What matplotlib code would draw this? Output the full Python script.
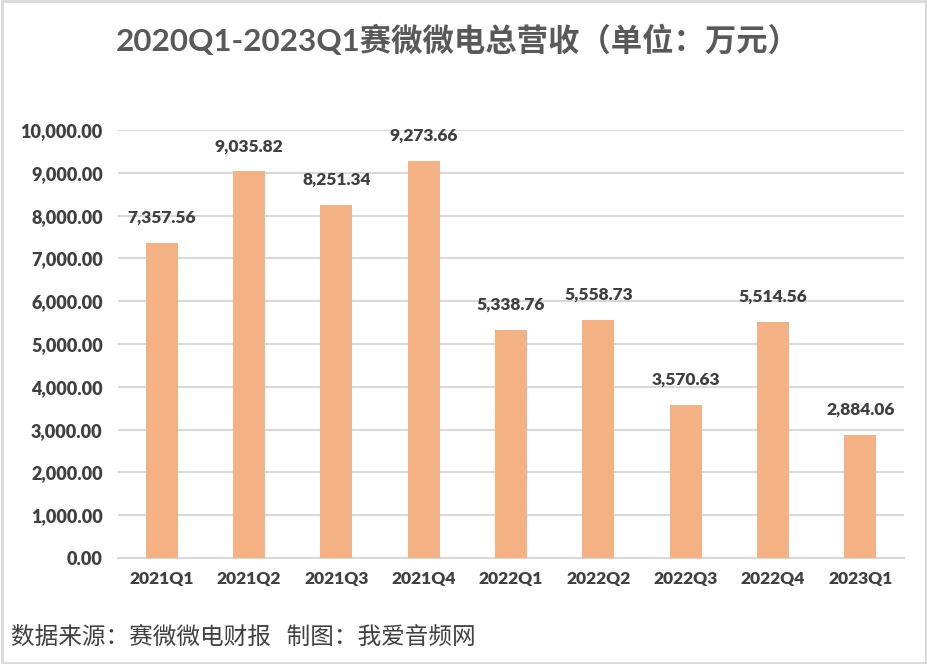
import matplotlib.pyplot as plt
from matplotlib.patches import Rectangle

quarters = ['2021Q1', '2021Q2', '2021Q3', '2021Q4', '2022Q1',
            '2022Q2', '2022Q3', '2022Q4', '2023Q1']
revenue = [7357.56, 9035.82, 8251.34, 9273.66, 5338.76,
           5558.73, 3570.63, 5514.56, 2884.06]
yticks = list(range(0, 10001, 1000))

plt.rcParams['font.family'] = ['Lato', 'Noto Sans CJK SC', 'DejaVu Sans']
text_color = '#404040'

fig = plt.figure(figsize=(9.28, 6.64), dpi=100)
fig.patches.append(Rectangle((0.002, 0.002), 0.996, 0.996, transform=fig.transFigure,
                             fill=False, edgecolor='#d9d9d9', linewidth=2))

ax = fig.add_axes([118 / 928, 1 - 558 / 664, (904 - 118) / 928, (558 - 130) / 664])
x = range(len(quarters))
ax.bar(x, revenue, width=0.37, color='#F4B183', zorder=3)
ax.set_xlim(-0.5, len(quarters) - 0.5)
ax.set_ylim(0, 10000)
ax.set_yticks(yticks)
ax.set_yticklabels([f'{v:,.2f}' for v in yticks], fontsize=13, fontweight='heavy', color=text_color)
ax.set_xticks(list(x))
ax.set_xticklabels(quarters, fontsize=12.5, fontweight='heavy', color=text_color)
ax.tick_params(length=0, pad=11)
ax.tick_params(axis='x', pad=9)
ax.grid(axis='y', color='#d9d9d9', linewidth=1.5, zorder=0)
for s in ['top', 'right', 'left']:
    ax.spines[s].set_visible(False)
ax.spines['bottom'].set_color('#d9d9d9')
ax.spines['bottom'].set_linewidth(1.5)

for i, v in enumerate(revenue):
    ax.annotate(f'{v:,.2f}', (i, v), xytext=(0, 18), textcoords='offset points',
                ha='center', va='center', fontsize=12.5, fontweight='heavy', color=text_color)

fig.text(458 / 928, 1 - 40 / 664, '2020Q1-2023Q1赛微微电总营收（单位：万元）',
         ha='center', va='center', fontsize=22.6, fontweight='bold', color='#595959',
         family=['Lato', 'Noto Sans CJK SC'])
fig.text(11 / 928, 1 - 637 / 664, '数据来源：赛微微电财报   制图：我爱音频网',
         ha='left', va='center', fontsize=17, color='#404040',
         family=['Noto Sans CJK SC'])

fig.savefig('out.png', dpi=100)
